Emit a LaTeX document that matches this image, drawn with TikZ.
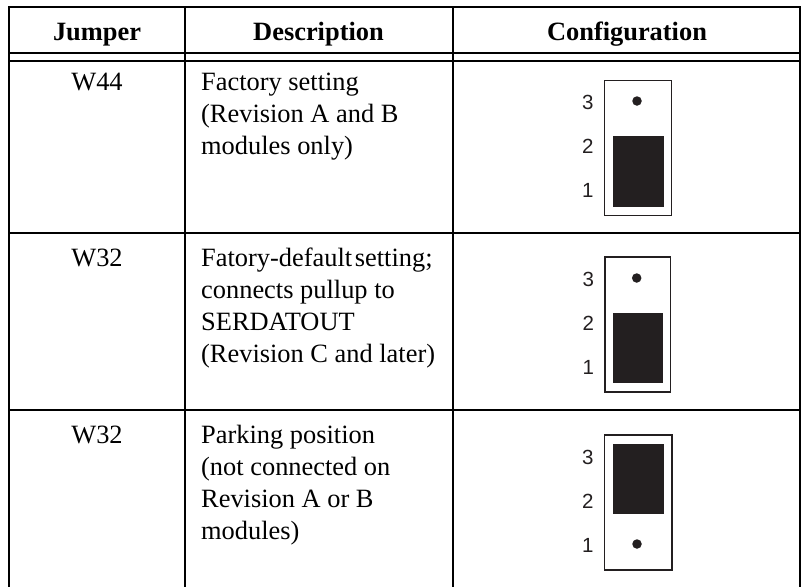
\documentclass[tikz,border=0pt]{standalone}
\usepackage{fontspec}
\setmainfont{Liberation Serif}
\newfontfamily\digitfont{Liberation Sans}
\definecolor{ink}{HTML}{231F20}
\tikzset{
  x=1pt,y=-1pt,
  rule/.style={line width=1.8pt,black},
  hdr/.style={font=\fontsize{26.4}{30}\selectfont\bfseries,anchor=base,inner sep=0pt},
  cell/.style={font=\fontsize{26.4}{30}\selectfont,anchor=base,inner sep=0pt},
  desc/.style={font=\fontsize{26.4}{30}\selectfont,anchor=base west,inner sep=0pt},
  pin/.style={font=\digitfont\fontsize{20.5}{22}\selectfont,text=ink,anchor=base,inner sep=0pt},
  jbox/.style={draw=ink,line width=1.6pt,fill=none},
  jblock/.style={fill=ink,draw=none},
  jdot/.style={fill=ink,draw=none,circle,minimum size=9.5pt,inner sep=0pt},
}
\begin{document}
\begin{tikzpicture}
\useasboundingbox (0,0) rectangle (801,587);
\fill[white] (0,0) rectangle (801,587);
\draw[rule] (8.1,6.8) -- (800.9,6.8);
\draw[rule] (9,53.3) -- (800,53.3);
\draw[rule] (9,60.7) -- (800,60.7);
\draw[rule] (9,232.8) -- (800,232.8);
\draw[rule] (9,409.8) -- (800,409.8);
\draw[rule] (9,6.8) -- (9,587);
\draw[rule] (185,6.8) -- (185,587);
\draw[rule] (453,6.8) -- (453,587);
\draw[rule] (800,6.8) -- (800,587);
\node[hdr] (h1) at (97,40) {Jumper};
\node[hdr] (h2) at (318.5,40) {Description};
\node[hdr] (h3) at (627,40) {Configuration};
\node[cell] (j1) at (97,90.5) {W44};
\node[cell] (j2) at (97,266.5) {W32};
\node[cell] (j3) at (97,443.5) {W32};
\node[desc] (d1a) at (201,90.5) {Factory setting};
\node[desc] (d1b) at (201,122) {(Revision A and B};
\node[desc] (d1c) at (201,154) {modules only)};
\node[desc] (d2a) at (201,266.5) {Fatory-default\hspace{0.1em}setting;};
\node[desc] (d2b) at (201,298.5) {connects pullup to};
\node[desc] (d2c) at (201,330.5) {SERDATOUT};
\node[desc] (d2d) at (201,362.5) {(Revision C and later)};
\node[desc] (d3a) at (201,443.5) {Parking position};
\node[desc] (d3b) at (201,475.5) {(not connected on};
\node[desc] (d3c) at (201,507.5) {Revision A or B};
\node[desc] (d3d) at (201,539.5) {modules)};
% jumper 1
\draw[jbox] (604.5,80.5) rectangle (671.5,215.5);
\fill[jblock] (612.7,136) rectangle (663.5,207);
\node[jdot] (p1) at (637,101) {};
\node[pin] (n13) at (587.7,109.3) {3};
\node[pin] (n12) at (587.7,153.3) {2};
\node[pin] (n11) at (587.7,197.3) {1};
% jumper 2
\draw[jbox] (605,257) rectangle (670.3,391.7);
\fill[jblock] (613,313) rectangle (662.7,383.3);
\node[jdot] (p2) at (636.7,278) {};
\node[pin] (n23) at (588.3,286.5) {3};
\node[pin] (n22) at (588.3,330.5) {2};
\node[pin] (n21) at (588.3,374.5) {1};
% jumper 3
\draw[jbox] (604.3,435) rectangle (671.7,569.7);
\fill[jblock] (612.5,444) rectangle (663.5,514);
\node[jdot] (p3) at (637,544) {};
\node[pin] (n33) at (587.7,464) {3};
\node[pin] (n32) at (587.7,508) {2};
\node[pin] (n31) at (587.7,552) {1};
\end{tikzpicture}
\end{document}
